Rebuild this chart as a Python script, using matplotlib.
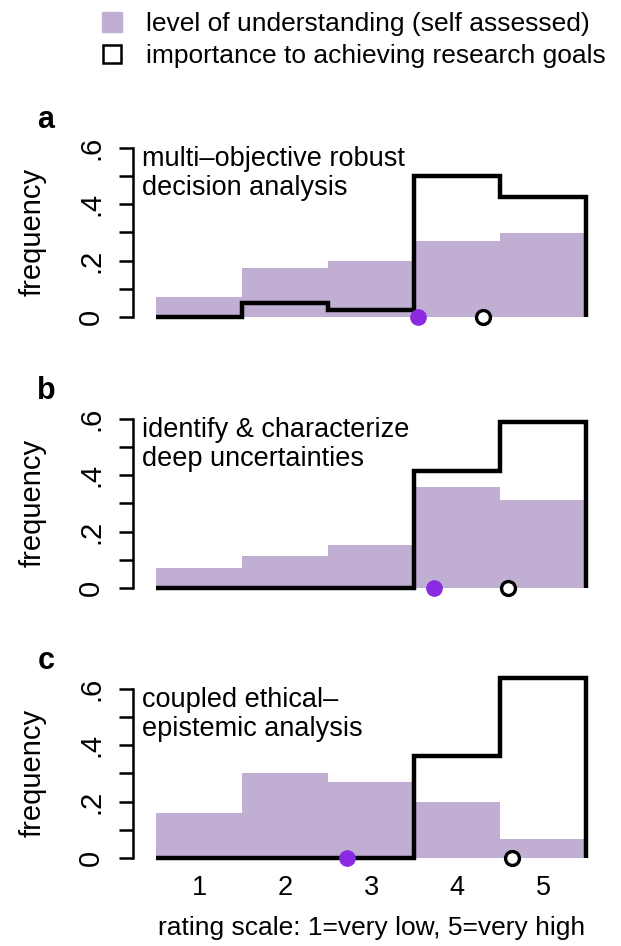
import numpy as np
import matplotlib
matplotlib.use("Agg")
import matplotlib.pyplot as plt
import matplotlib.transforms as mtransforms
from matplotlib.lines import Line2D

plt.rcParams['font.family'] = ['Liberation Sans', 'DejaVu Sans']

# data
ratings = [1, 2, 3, 4, 5]
panel_letters = ['a', 'b', 'c']
panel_titles = ['multi\u2013objective robust\ndecision analysis',
                'identify & characterize\ndeep uncertainties',
                'coupled ethical\u2013\nepistemic analysis']
understanding_a = [0.072, 0.174, 0.200, 0.270, 0.297]
understanding_b = [0.070, 0.112, 0.152, 0.358, 0.312]
understanding_c = [0.160, 0.302, 0.268, 0.198, 0.068]
importance_a = [0.0, 0.050, 0.025, 0.500, 0.425]
importance_b = [0.0, 0.0, 0.0, 0.414, 0.590]
importance_c = [0.0, 0.0, 0.0, 0.362, 0.638]
mean_understanding = [3.54, 3.73, 2.72]
mean_importance = [4.30, 4.59, 4.64]
ytick_vals = [0, 0.2, 0.4, 0.6]
ytick_labels = ['0', '.2', '.4', '.6']

understanding = [understanding_a, understanding_b, understanding_c]
importance = [importance_a, importance_b, importance_c]

fill_col = '#C0AED3'
dot_col = '#8A2BE2'

W, H = 621, 946
fig = plt.figure(figsize=(W / 100, H / 100), dpi=100)

zero_px = [317, 588, 858]   # pixel row of y=0 in each panel
px_per_unit = 282
ylo, yhi = -0.04, 0.68
xlo, xhi = 0.23, 5.77
left_px = 133
width_px = (xhi - xlo) * 86

edges = np.arange(0.5, 6.0, 1.0)

for i in range(3):
    z = zero_px[i]
    bottom = 1 - (z - ylo * px_per_unit) / H
    height = (yhi - ylo) * px_per_unit / H
    ax = fig.add_axes([left_px / W, bottom, width_px / W, height])

    ax.bar(ratings, understanding[i], width=1.0, color=fill_col, linewidth=0)
    ax.stairs(importance[i], edges, baseline=0, color='black', linewidth=3.2)
    ax.plot(mean_understanding[i], 0, 'o', ms=11, color=dot_col, mec=dot_col,
            clip_on=False, zorder=5)
    ax.plot(mean_importance[i], 0, 'o', ms=10, mfc='white', mec='black',
            mew=2.4, clip_on=False, zorder=5)

    ax.set_xlim(xlo, xhi)
    ax.set_ylim(ylo, yhi)
    for s in ['top', 'right', 'bottom']:
        ax.spines[s].set_visible(False)
    ax.spines['left'].set_bounds(0, 0.6)
    ax.spines['left'].set_linewidth(1.8)
    ax.set_yticks(ytick_vals)
    ax.set_yticks([0.1, 0.3, 0.5], minor=True)
    ax.set_yticklabels(ytick_labels)
    ax.tick_params(axis='y', which='both', length=10, width=1.8, pad=10,
                   labelsize=21, labelrotation=90)
    for lab in ax.get_yticklabels():
        lab.set_va('center')
    ax.set_xticks(ratings)
    if i == 2:
        ax.tick_params(axis='x', length=0, pad=4, labelsize=19.5)
        ax.set_xlabel('rating scale: 1=very low, 5=very high', fontsize=19,
                      labelpad=11)
    else:
        ax.tick_params(axis='x', length=0, labelbottom=False)

    ax.text(0.34, 0.605, panel_titles[i], fontsize=19.5, ha='left', va='top',
            linespacing=1.15)

    trans = mtransforms.blended_transform_factory(fig.transFigure, ax.transData)
    ax.text(46 / W, 0.70, panel_letters[i], transform=trans, fontsize=22,
            fontweight='bold', ha='center', va='center')
    ax.text(33 / W, 0.3, 'frequency', transform=trans, fontsize=21,
            rotation=90, ha='center', va='center')

handles = [Line2D([], [], ls='', marker='s', ms=15, mfc=fill_col, mec=fill_col),
           Line2D([], [], ls='', marker='s', ms=13, mfc='white', mec='black',
                  mew=1.8)]
fig.legend(handles, ['level of understanding (self assessed)',
                     'importance to achieving research goals'],
           loc='upper left', bbox_to_anchor=(101 / W, 1 - 12 / H),
           frameon=False, fontsize=19, handlelength=0.8, handletextpad=0.9,
           labelspacing=0.3, borderpad=0, borderaxespad=0)

fig.savefig('out.png', dpi=100)
